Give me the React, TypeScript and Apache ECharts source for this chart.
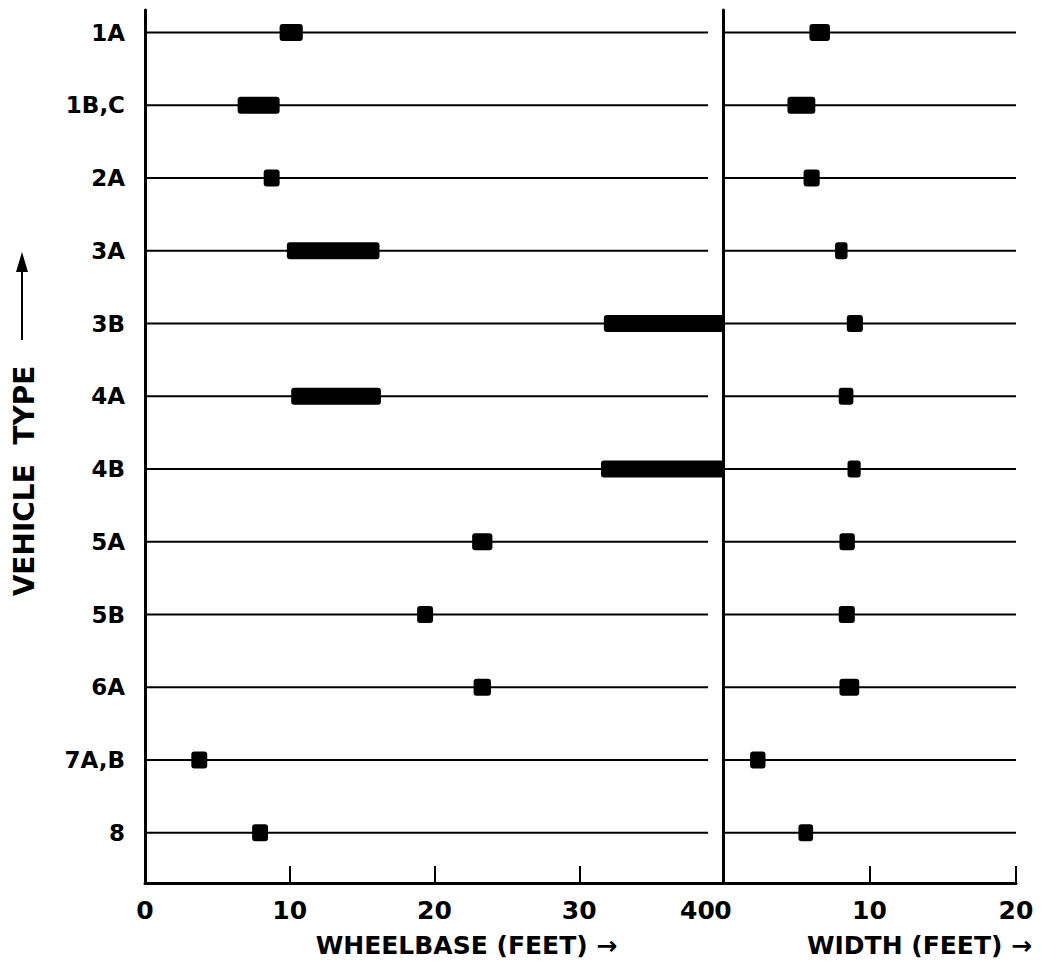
import React, { useEffect, useRef } from 'react';
import * as echarts from 'echarts';

// ---- data ----
const vehicleTypes = ['1A', '1B,C', '2A', '3A', '3B', '4A', '4B', '5A', '5B', '6A', '7A,B', '8'];
const wheelbaseLow = [9.3, 6.4, 8.2, 9.8, 31.7, 10.1, 31.5, 22.6, 18.8, 22.7, 3.2, 7.4];
const wheelbaseHigh = [10.9, 9.3, 9.3, 16.2, 40, 16.3, 40, 24.0, 19.9, 23.9, 4.3, 8.5];
const widthLow = [5.9, 4.4, 5.5, 7.65, 8.45, 7.9, 8.5, 7.95, 7.9, 7.95, 1.85, 5.15];
const widthHigh = [7.3, 6.3, 6.6, 8.5, 9.55, 8.9, 9.4, 9.0, 9.0, 9.3, 2.9, 6.15];
const wheelbaseTicks = [0, 10, 20, 30, 40];
const widthTicks = [0, 10, 20];
const wheelbaseTitle = 'WHEELBASE (FEET) →';
const widthTitle = 'WIDTH (FEET) →';
const yTitle = 'VEHICLE  TYPE';

// ---- layout / style ----
const FONT = 'DejaVu Sans';
const BAR_H = 17;
const LEFT_LINE_END = 38.9;
const Y_MIN = -0.31;
const Y_MAX = 11.69;

const rowIdx = vehicleTypes.map((_, i) => i);

function barRender(params: any, api: any) {
  const lo = api.coord([api.value(0), api.value(2)]);
  const hi = api.coord([api.value(1), api.value(2)]);
  return {
    type: 'rect',
    shape: { x: lo[0], y: lo[1] - BAR_H / 2, width: hi[0] - lo[0], height: BAR_H, r: 3 },
    style: { fill: '#000' },
  };
}

function lineRender(end: number) {
  return (params: any, api: any) => {
    const a = api.coord([0, api.value(0)]);
    const b = api.coord([end, api.value(0)]);
    return {
      type: 'line',
      shape: { x1: a[0], y1: a[1], x2: b[0], y2: b[1] },
      style: { stroke: '#000', lineWidth: 2 },
    };
  };
}

export default function App() {
  const ref = useRef<HTMLDivElement>(null);
  useEffect(() => {
    document.body.style.margin = '0';
    const chart = echarts.init(ref.current!, null, { renderer: 'svg' });
    const axisLine = { onZero: false, lineStyle: { color: '#000', width: 3 } };
    const xLabel = { color: '#000', fontFamily: FONT, fontWeight: 'bold', fontSize: 25, margin: 15 };
    const nameStyle = (pad: number) => ({
      color: '#000', fontFamily: FONT, fontWeight: 'bold', fontSize: 25, padding: [0, 0, 0, pad],
    });
    const tick = (vals: number[]) => ({ inside: true, length: 17, lineStyle: { color: '#000', width: 2 }, customValues: vals });
    chart.setOption({
      animation: false,
      backgroundColor: '#fff',
      grid: [
        { left: 145, top: 10, width: 579, height: 873, outerBoundsMode: 'none' },
        { left: 723, top: 10, width: 293, height: 873, outerBoundsMode: 'none' },
      ],
      xAxis: [
        {
          gridIndex: 0, type: 'value', position: 'bottom', min: 0, max: 40, interval: 10,
          axisLine, axisTick: tick(wheelbaseTicks),
          axisLabel: {
            ...xLabel, customValues: wheelbaseTicks,
            formatter: (v: number) => (v === 40 ? '{e|40}' : String(v)),
            rich: { e: { fontFamily: FONT, fontWeight: 'bold', fontSize: 25, color: '#000', width: 88, align: 'left' } },
          },
          splitLine: { show: false },
          name: wheelbaseTitle, nameLocation: 'middle', nameGap: 50, nameTextStyle: nameStyle(64),
        },
        {
          gridIndex: 1, type: 'value', position: 'bottom', min: 0, max: 20, interval: 10,
          axisLine, axisTick: tick(widthTicks),
          axisLabel: { ...xLabel, customValues: widthTicks },
          splitLine: { show: false },
          name: widthTitle, nameLocation: 'middle', nameGap: 50, nameTextStyle: nameStyle(100),
        },
      ],
      yAxis: [
        {
          gridIndex: 0, type: 'value', inverse: true, min: Y_MIN, max: Y_MAX,
          axisLine: { show: true, ...axisLine }, axisTick: { show: false },
          axisLabel: {
            customValues: rowIdx, margin: 20, color: '#000', fontFamily: FONT, fontWeight: 'bold', fontSize: 23,
            formatter: (v: number) => vehicleTypes[Math.round(v)] ?? '',
          },
          splitLine: { show: false },
        },
        {
          gridIndex: 1, type: 'value', inverse: true, min: Y_MIN, max: Y_MAX,
          axisLine: { show: true, ...axisLine }, axisTick: { show: false },
          axisLabel: { show: false }, splitLine: { show: false },
        },
      ],
      graphic: [
        {
          type: 'text', x: 24, y: 481, rotation: Math.PI / 2,
          style: { text: yTitle, fontFamily: FONT, fontWeight: 'bold', fontSize: 28, fill: '#000', align: 'center', verticalAlign: 'middle' },
        },
        { type: 'line', shape: { x1: 22, y1: 340, x2: 22, y2: 262 }, style: { stroke: '#000', lineWidth: 2 } },
        { type: 'polygon', shape: { points: [[16, 272], [22, 252], [28, 272]] }, style: { fill: '#000' } },
      ],
      series: [
        {
          type: 'custom', xAxisIndex: 0, yAxisIndex: 0, renderItem: lineRender(LEFT_LINE_END),
          data: rowIdx.map((i) => [i]), encode: { y: 0 }, silent: true,
        },
        {
          type: 'custom', xAxisIndex: 1, yAxisIndex: 1, renderItem: lineRender(20),
          data: rowIdx.map((i) => [i]), encode: { y: 0 }, silent: true,
        },
        {
          type: 'custom', xAxisIndex: 0, yAxisIndex: 0, renderItem: barRender,
          data: rowIdx.map((i) => [wheelbaseLow[i], wheelbaseHigh[i], i]), encode: { x: [0, 1], y: 2 },
        },
        {
          type: 'custom', xAxisIndex: 1, yAxisIndex: 1, renderItem: barRender,
          data: rowIdx.map((i) => [widthLow[i], widthHigh[i], i]), encode: { x: [0, 1], y: 2 },
        },
      ],
    });
    return () => chart.dispose();
  }, []);
  return <div ref={ref} style={{ width: 1041, height: 972 }} />;
}
